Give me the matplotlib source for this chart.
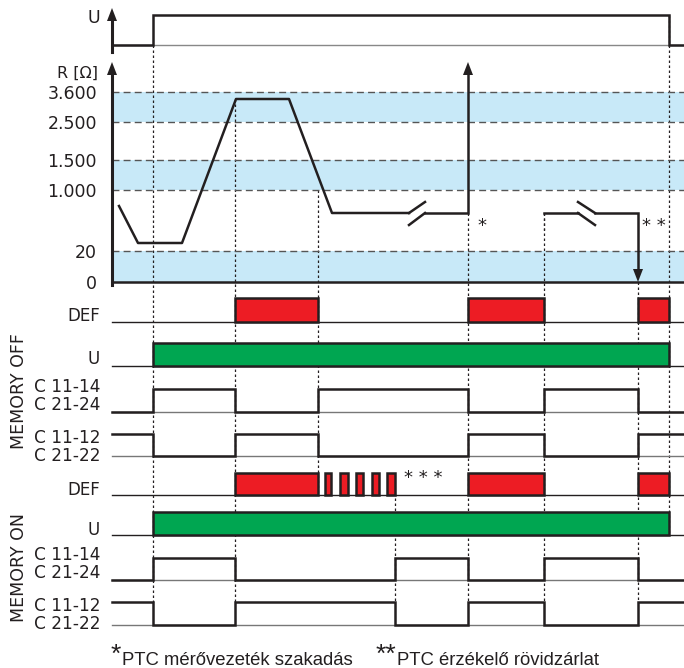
import matplotlib
matplotlib.use('Agg')
import matplotlib.pyplot as plt

# --- time events (horizontal, same scale for all rows) ---
t_start, t_end = 112, 684
t_on, t_off = 153, 669

# R [Ohm] scale: labels and their level positions
r_labels = ['3.600', '2.500', '1.500', '1.000', '20', '0']
r_pos = [92, 122, 160, 190, 251, 282]
r_bands = [(92, 122), (160, 190), (251, 282)]

# R curve (time, level)
r_curve_t = [119, 138, 182, 236, 289, 332, 409]
r_curve_y = [206, 243, 243, 99, 99, 213, 213]
r_open_t = [425, 468]        # after break, line goes to open wire
r_short_t = [544, 578]       # second segment before break
r_short2_t = [595, 638]      # after break, then short circuit
r_line_level = 213

# DEF periods
def_off = [(235, 318), (468, 544), (638, 669)]
def_on = [(235, 318), (325, 331), (340, 348), (356, 363), (372, 379), (387, 395),
          (468, 544), (638, 669)]

# contact states
c_edges_off = [112, 153, 235, 318, 468, 544, 638, 684]
c1114_off = [0, 1, 0, 1, 0, 1, 0]
c1112_off = [1, 0, 1, 0, 1, 0, 1]
c_edges_on = [112, 153, 235, 395, 468, 544, 638, 684]
c1114_on = [0, 1, 0, 1, 0, 1, 0]
c1112_on = [1, 0, 1, 0, 1, 0, 1]

# dotted marker lines (time, from, to)
markers = [(153, 45, 603), (235, 99, 603), (318, 190, 493), (395, 493, 603),
           (468, 213, 603), (544, 213, 603), (638, 282, 603), (669, 15, 535)]

# row levels (low, high)
rows = {
    'u_top': (45, 15),
    'def_off': (322, 298), 'u_off': (366, 343),
    'c1114_off': (412, 389), 'c1112_off': (456, 434),
    'def_on': (495, 473), 'u_on': (535, 512),
    'c1114_on': (580, 558), 'c1112_on': (625, 602),
}

BLACK = '#231f20'
RED = '#ed1c24'
GREEN = '#00a651'
BLUE = '#c8e9f8'
LABEL_FONT = 'DejaVu Sans'
NOTE_FONT = 'Liberation Sans'

fig = plt.figure(figsize=(6.84, 6.68), dpi=100)
ax = fig.add_axes([0, 0, 1, 1])
ax.set_xlim(0, 684)
ax.set_ylim(668, 0)
ax.axis('off')


def arrow_head(x, tip, up=True, size=13, half=5):
    base = tip + size if up else tip - size
    ax.fill([x - half, x + half, x], [base, base, tip], color=BLACK, lw=0, zorder=6)


def step_signal(edges, states, low, high, lw=1.8):
    xs, ys = [], []
    for i, s in enumerate(states):
        y = high if s else low
        xs += [edges[i], edges[i + 1]]
        ys += [y, y]
    ax.plot(xs, ys, color=BLACK, lw=lw, solid_joinstyle='miter', zorder=5)


def bars(periods, low, high, color):
    for a, b in periods:
        ax.fill([a, b, b, a], [low, low, high, high], facecolor=color,
                edgecolor=BLACK, lw=1.8, joinstyle='miter', zorder=4)


# dotted vertical lines
for x, y0, y1 in markers:
    ax.plot([x, x], [y0, y1], color=BLACK, lw=0.9, ls=(0, (2, 2)), zorder=2)

# --- top U ---
lo, hi = rows['u_top']
ax.plot([t_start, t_end], [lo, lo], color='#888888', lw=1.0, zorder=3)
ax.plot([t_start, t_on, t_on, t_off, t_off, t_end], [lo, lo, hi, hi, lo, lo],
        color=BLACK, lw=1.8, solid_joinstyle='miter', zorder=5)
ax.plot([t_start, t_start], [52, 18], color=BLACK, lw=2.2, zorder=5)
arrow_head(t_start, 8)
ax.text(100, 18, 'U', ha='right', va='center', fontsize=12.5, color=BLACK, family=LABEL_FONT)

# --- R panel ---
for a, b in r_bands:
    ax.fill([t_start, t_end, t_end, t_start], [a, a, b, b], color=BLUE, lw=0, zorder=1)
for lab, y in zip(r_labels, r_pos):
    if lab != '0':
        ax.plot([t_start, t_end], [y, y], color='#555555', lw=1.0, ls=(0, (5, 3)), zorder=2)
    ax.text(97, y + 2, lab, ha='right', va='center', fontsize=12.5, color=BLACK, family=LABEL_FONT)
ax.plot([t_start, t_end], [282, 282], color=BLACK, lw=1.8, zorder=5)
ax.plot([t_start, t_start], [285, 72], color=BLACK, lw=2.2, zorder=5)
arrow_head(t_start, 62)
ax.text(98, 73, 'R [Ω]', ha='right', va='center', fontsize=11.5, color=BLACK, family=LABEL_FONT)

ax.plot(r_curve_t, r_curve_y, color=BLACK, lw=1.8, zorder=5)
# break marks
ax.plot([409, 425], [213, 202], color=BLACK, lw=1.8, zorder=5)
ax.plot([409, 425], [225, 213], color=BLACK, lw=1.8, zorder=5)
ax.plot(r_open_t + [r_open_t[-1]], [r_line_level, r_line_level, 74],
        color=BLACK, lw=1.8, solid_joinstyle='miter', zorder=5)
arrow_head(r_open_t[-1], 62)
ax.plot([r_short_t[0], r_short_t[0]], [r_line_level, 230], color=BLACK, lw=0.9,
        ls=(0, (2, 2)), zorder=2)
ax.plot(r_short_t, [r_line_level, r_line_level], color=BLACK, lw=1.8, zorder=5)
ax.plot([578, 595], [202, 213], color=BLACK, lw=1.8, zorder=5)
ax.plot([578, 595], [213, 225], color=BLACK, lw=1.8, zorder=5)
ax.plot(r_short2_t + [r_short2_t[-1]], [r_line_level, r_line_level, 270],
        color=BLACK, lw=1.8, solid_joinstyle='miter', zorder=5)
arrow_head(r_short2_t[-1], 282, up=False)
ax.text(482, 226, '*', ha='center', va='center', fontsize=13, color=BLACK, family=LABEL_FONT)
ax.text(654, 226, '* *', ha='center', va='center', fontsize=13, color=BLACK, family=LABEL_FONT)

# --- digital rows ---
for key in ['def_off', 'u_off', 'def_on', 'u_on']:
    lo, hi = rows[key]
    ax.plot([t_start, t_end], [lo, lo], color=BLACK, lw=1.0, zorder=3)
for key in ['c1114_off', 'c1112_off', 'c1114_on', 'c1112_on']:
    lo, hi = rows[key]
    ax.plot([t_start, t_end], [lo, lo], color='#777777', lw=1.0, zorder=3)

bars(def_off, *rows['def_off'], RED)
bars([(t_on, t_off)], *rows['u_off'], GREEN)
bars(def_on, *rows['def_on'], RED)
bars([(t_on, t_off)], *rows['u_on'], GREEN)

step_signal(c_edges_off, c1114_off, *rows['c1114_off'])
step_signal(c_edges_off, c1112_off, *rows['c1112_off'])
step_signal(c_edges_on, c1114_on, *rows['c1114_on'])
step_signal(c_edges_on, c1112_on, *rows['c1112_on'])

ax.text(423, 478, '* * *', ha='center', va='center', fontsize=13, color=BLACK, family=LABEL_FONT)

# row labels
row_labels = [('DEF', 316), ('U', 359), ('C 11-14', 387), ('C 21-24', 405),
              ('C 11-12', 438), ('C 21-22', 456),
              ('DEF', 490), ('U', 530), ('C 11-14', 555), ('C 21-24', 573),
              ('C 11-12', 606), ('C 21-22', 624)]
for lab, y in row_labels:
    size = 12.2 if lab.startswith('C') else 12
    ax.text(100, y, lab, ha='right', va='center', fontsize=size, color=BLACK, family=LABEL_FONT)

ax.text(19, 391, 'MEMORY OFF', rotation=90, ha='center', va='center', fontsize=12.5,
        color=BLACK, family=LABEL_FONT)
ax.text(19, 567, 'MEMORY ON', rotation=90, ha='center', va='center', fontsize=12.5,
        color=BLACK, family=LABEL_FONT)

# footnotes
ax.text(111, 643, '*', ha='left', va='top', fontsize=19, color=BLACK, family=NOTE_FONT)
ax.text(122, 665, 'PTC mérővezeték szakadás', ha='left', va='baseline', fontsize=13.3,
        color=BLACK, family=NOTE_FONT)
ax.text(376, 643, '**', ha='left', va='top', fontsize=19, color=BLACK, family=NOTE_FONT)
ax.text(397, 665, 'PTC érzékelő rövidzárlat', ha='left', va='baseline', fontsize=13.3,
        color=BLACK, family=NOTE_FONT)

fig.savefig('out.png', dpi=100)
